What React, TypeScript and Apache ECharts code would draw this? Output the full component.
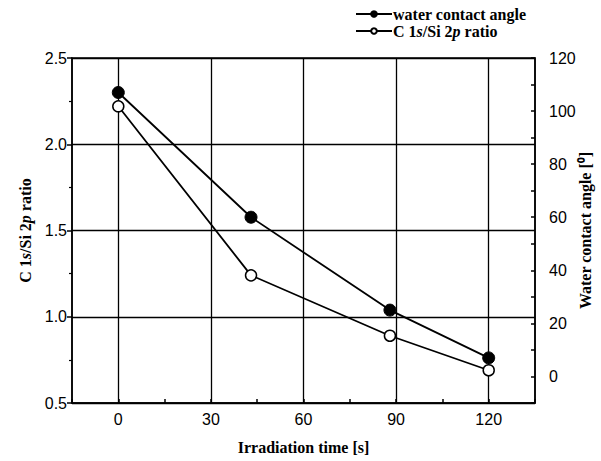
import React, { useEffect, useRef } from "react";
import * as echarts from "echarts";

const times = [0, 43, 88, 120];
const contactAngle = [107, 60, 25, 7];
const ratio = [2.22, 1.24, 0.89, 0.69];
const xGridValues = [0, 30, 60, 90, 120];

const SERIF = "'Liberation Serif', 'Times New Roman', serif";
const SANS = "'Liberation Sans', Arial, sans-serif";

export default function App() {
  const ref = useRef<HTMLDivElement>(null);
  useEffect(() => {
    if (!ref.current) return;
    const chart = echarts.init(ref.current, null, { renderer: "svg" });
    const rich = {
      n: { fontFamily: SERIF, fontSize: 16, fontWeight: "bold", color: "#000" },
      i: { fontFamily: SERIF, fontSize: 16, fontWeight: "bold", fontStyle: "italic", color: "#000" },
    };
    const tickFont = { fontFamily: SANS, fontSize: 16, color: "#000" };
    chart.setOption({
      animation: false,
      backgroundColor: "#fff",
      grid: {
        left: 72,
        right: 66,
        top: 58,
        bottom: 58,
        show: true,
        borderColor: "#000",
        borderWidth: 1.5,
        containLabel: false,
        outerBoundsMode: "none",
      },
      legend: {
        left: 355,
        top: 6,
        padding: 0,
        orient: "vertical",
        itemWidth: 36,
        itemHeight: 7,
        itemGap: 1,
        data: ["water contact angle", "C 1s/Si 2p ratio"],
        textStyle: { fontFamily: SERIF, fontSize: 16, fontWeight: "bold", color: "#000", rich, padding: [0, 0, 0, -4] },
        formatter: (name: string) =>
          name === "water contact angle"
            ? "{n|water contact angle}"
            : "{n|C 1}{i|s}{n|/Si 2}{i|p}{n| ratio}",
      },
      xAxis: {
        type: "value",
        min: -15,
        max: 135,
        interval: 15,
        name: "Irradiation time [s]",
        nameLocation: "middle",
        nameGap: 36,
        nameTextStyle: { fontFamily: SERIF, fontSize: 16, fontWeight: "bold", color: "#000" },
        axisLine: { show: true, onZero: false, lineStyle: { color: "#000", width: 1.5 } },
        axisTick: { show: true, inside: true, length: 4, lineStyle: { color: "#000", width: 1.5 } },
        axisLabel: {
          margin: 8,
          ...tickFont,
          formatter: (v: number) => (v % 30 === 0 && v >= 0 && v <= 120 ? String(v) : ""),
        },
        splitLine: { show: false },
      },
      yAxis: [
        {
          type: "value",
          min: 0.5,
          max: 2.5,
          interval: 0.5,
          position: "left",
          name: "{n|C 1}{i|s}{n|/Si 2}{i|p}{n| ratio}",
          nameLocation: "middle",
          nameGap: 36,
          nameTextStyle: { fontFamily: SERIF, fontSize: 16, fontWeight: "bold", color: "#000", rich },
          axisLine: { show: true, onZero: false, lineStyle: { color: "#000", width: 1.5 } },
          axisTick: { show: true, inside: false, length: 5, lineStyle: { color: "#000", width: 1.5 } },
          minorTick: { show: true, splitNumber: 2, length: 3, lineStyle: { color: "#000", width: 1.2 } },
          axisLabel: {
            margin: 5,
            ...tickFont,
            formatter: (v: number) => v.toFixed(1),
          },
          splitLine: { show: true, lineStyle: { color: "#000", width: 1.3 } },
        },
        {
          type: "value",
          min: -10,
          max: 120,
          interval: 10,
          position: "right",
          name: "Water contact angle [\u2070]",
          nameLocation: "middle",
          nameGap: 42,
          nameRotate: 90,
          nameMoveOverlap: false,
          nameTextStyle: { fontFamily: SERIF, fontSize: 16, fontWeight: "bold", color: "#000" },
          axisLine: { show: true, onZero: false, lineStyle: { color: "#000", width: 1.5 } },
          axisTick: { show: true, inside: true, length: 4, lineStyle: { color: "#000", width: 1.5 } },
          axisLabel: {
            margin: 14,
            ...tickFont,
            formatter: (v: number) => (v % 20 === 0 && v >= 0 ? String(v) : ""),
          },
          splitLine: { show: false },
        },
      ],
      series: [
        {
          name: "water contact angle",
          type: "line",
          yAxisIndex: 1,
          data: times.map((t, i) => [t, contactAngle[i]]),
          symbol: "circle",
          symbolSize: 12,
          lineStyle: { color: "#000", width: 1.8 },
          itemStyle: { color: "#000", borderColor: "#000", borderWidth: 1 },
          z: 3,
          markLine: {
            silent: true,
            symbol: ["none", "none"],
            label: { show: false },
            lineStyle: { color: "#000", width: 1.3, type: "solid" },
            data: xGridValues.map((v) => ({ xAxis: v })),
            z: 1,
          },
        },
        {
          name: "C 1s/Si 2p ratio",
          type: "line",
          yAxisIndex: 0,
          data: times.map((t, i) => [t, ratio[i]]),
          symbol: "circle",
          symbolSize: 11,
          lineStyle: { color: "#000", width: 1.8 },
          itemStyle: { color: "#fff", borderColor: "#000", borderWidth: 1.5 },
          z: 4,
        },
      ],
    });
    return () => chart.dispose();
  }, []);
  return <div ref={ref} style={{ width: 601, height: 461, position: "absolute", left: 0, top: 0 }} />;
}
